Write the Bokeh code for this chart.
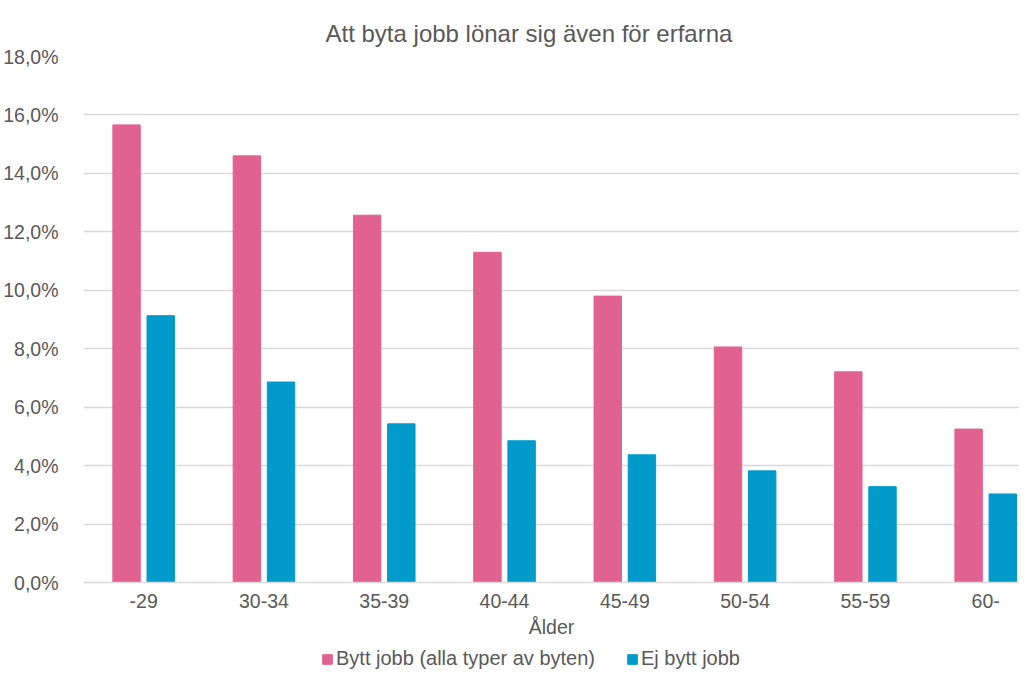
from bokeh.plotting import figure
from bokeh.models import (ColumnDataSource, Legend, LegendItem, CustomJSTickFormatter,
                          Range1d, FixedTicker)
from bokeh.layouts import column
from bokeh.transform import dodge
from bokeh.embed import file_html
from bokeh.resources import INLINE

categories = ["-29", "30-34", "35-39", "40-44", "45-49", "50-54", "55-59", "60-"]
bytt = [15.66, 14.60, 12.57, 11.30, 9.80, 8.06, 7.21, 5.25]
ej_bytt = [9.13, 6.86, 5.43, 4.85, 4.37, 3.82, 3.28, 3.03]
series_names = ["Bytt jobb (alla typer av byten)", "Ej bytt jobb"]
yticks = [0, 2, 4, 6, 8, 10, 12, 14, 16, 18]
x_title = "Ålder"
title = "Att byta jobb lönar sig även för erfarna"

FONT = "Liberation Sans"
TXT = "#595959"
PINK = "#E2628F"
BLUE = "#009ACB"

pos = [i + 0.5 for i in range(len(categories))]
src = ColumnDataSource(dict(x=pos, cat=categories, bytt=bytt, ej=ej_bytt))

p = figure(x_range=Range1d(0, 7.781), y_range=Range1d(0, 18),
           frame_width=936, frame_height=526,
           output_backend="svg", toolbar_location=None,
           min_border_left=75, min_border_right=0, min_border_top=56, min_border_bottom=0)
p.title.text = title
p.title.align = "left"
p.title.offset = 242
p.title.text_font = FONT
p.title.text_font_size = "24px"
p.title.text_font_style = "normal"
p.title.text_color = TXT
p.title.standoff = 20

p.vbar(x=dodge("x", -0.142), top="bytt", width=0.228, source=src,
       fill_color=PINK, line_color=PINK)
p.vbar(x=dodge("x", 0.142), top="ej", width=0.228, source=src,
       fill_color=BLUE, line_color=BLUE)

p.outline_line_color = None
p.background_fill_color = "white"
p.border_fill_color = "white"

p.yaxis.ticker = yticks
p.yaxis.formatter = CustomJSTickFormatter(code="return tick.toFixed(1).replace('.', ',') + '%';")
p.yaxis.axis_line_color = None
p.yaxis.major_tick_line_color = None
p.yaxis.minor_tick_line_color = None
p.yaxis.major_tick_out = 0
p.yaxis.major_tick_in = 0
p.yaxis.major_label_text_font = FONT
p.yaxis.major_label_text_font_size = "19.5px"
p.yaxis.major_label_text_color = TXT
p.yaxis.major_label_standoff = 25

p.xaxis.ticker = FixedTicker(ticks=pos)
p.xaxis.major_label_overrides = {x: c for x, c in zip(pos, categories)}
p.xaxis.axis_line_color = "#D9D9D9"
p.xaxis.axis_line_width = 1.5
p.xaxis.major_tick_line_color = None
p.xaxis.minor_tick_line_color = None
p.xaxis.major_tick_out = 0
p.xaxis.major_tick_in = 0
p.xaxis.major_label_text_font = FONT
p.xaxis.major_label_text_font_size = "19.5px"
p.xaxis.major_label_text_color = TXT
p.xaxis.major_label_standoff = 11
p.xaxis.axis_label = x_title
p.xaxis.axis_label_text_font = FONT
p.xaxis.axis_label_text_font_size = "19.5px"
p.xaxis.axis_label_text_font_style = "normal"
p.xaxis.axis_label_text_color = TXT
p.xaxis.axis_label_standoff = 5

p.xgrid.grid_line_color = None
p.ygrid.grid_line_color = "#D9D9D9"
p.ygrid.grid_line_width = 1.3

# separate strip holding the legend, below the chart (its ranges keep the bars out of view)
pl = figure(width=1011, height=30, x_range=Range1d(0, 1), y_range=Range1d(100, 101),
            x_axis_type=None, y_axis_type=None, output_backend="svg", toolbar_location=None,
            min_border_left=0, min_border_right=0, min_border_top=0, min_border_bottom=0)
pl.outline_line_color = None
pl.xgrid.visible = False
pl.ygrid.visible = False
pl.background_fill_color = "white"
pl.border_fill_color = "white"
lr1 = pl.vbar(x=dodge("x", -0.142), top="bytt", width=0.228, source=src,
              fill_color=PINK, line_color=PINK)
lr2 = pl.vbar(x=dodge("x", 0.142), top="ej", width=0.228, source=src,
              fill_color=BLUE, line_color=BLUE)

legend = Legend(items=[LegendItem(label=series_names[0], renderers=[lr1]),
                       LegendItem(label=series_names[1], renderers=[lr2])],
                orientation="horizontal", location=(238, 0))
legend.label_text_font = FONT
legend.label_text_font_size = "20px"
legend.label_text_color = TXT
legend.glyph_width = 12
legend.glyph_height = 12
legend.spacing = 31
legend.label_standoff = 3
legend.border_line_color = None
legend.background_fill_alpha = 0
legend.margin = 0
legend.padding = 3
pl.add_layout(legend)

layout = column(p, pl, spacing=0)
open("out.html", "w").write(file_html(layout, INLINE))
